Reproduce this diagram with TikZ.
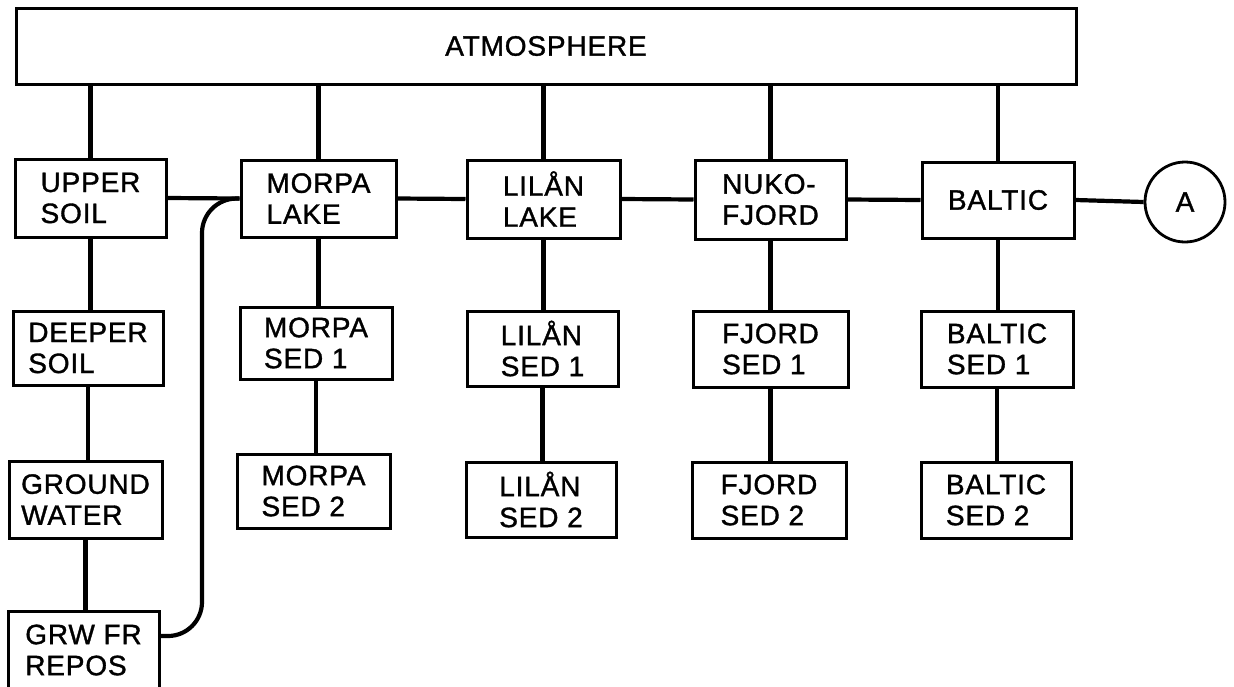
\documentclass[tikz,border=0pt]{standalone}
\usepackage{fontspec}
\setmainfont{Liberation Sans}[LetterSpace=3,FakeBold=1.2]
\begin{document}
\begin{tikzpicture}[x=1pt,y=-1pt,
  box/.style={draw, line width=3pt, align=left, inner sep=0pt,
    font=\fontsize{28}{31}\selectfont},
  sz/.style 2 args={minimum width=#1, minimum height=#2},
  conn/.style={line width=4.2pt}]
\useasboundingbox (0,0) rectangle (1234,686);
\clip (0,0) rectangle (1234,686);
% atmosphere
\node[box, sz={1060}{76}] (atm) at (546,46) {ATMOSPHERE};
% column 1
\node[box, sz={151}{78}] (us) at (90.5,198) {UPPER\\SOIL};
\node[box, sz={150}{74}] (ds) at (88,348) {DEEPER\\SOIL};
\node[box, sz={153}{77}] (gw) at (85.5,499.5) {GROUND\\WATER};
\node[box, sz={151}{77}] (grw) at (83.5,650) {GRW FR\\REPOS};
% column 2
\node[box, sz={155}{77}] (ml) at (318.5,198.5) {MORPA\\LAKE};
\node[box, sz={152}{72}] (ms1) at (316,343) {MORPA\\SED 1};
\node[box, sz={153}{74}] (ms2) at (313.5,491) {MORPA\\SED 2};
% column 3
\node[box, sz={153}{78}] (ll) at (543.5,199) {LILÅN\\LAKE};
\node[box, sz={151}{75}] (ls1) at (542.5,348.5) {LILÅN\\SED 1};
\node[box, sz={150}{75}] (ls2) at (541,499.5) {LILÅN\\SED 2};
% column 4
\node[box, sz={151}{79}] (nf) at (770.5,199.5) {NUKO-\\FJORD};
\node[box, sz={155}{76}] (fs1) at (770.5,349) {FJORD\\SED 1};
\node[box, sz={154}{76}] (fs2) at (769,500) {FJORD\\SED 2};
% column 5
\node[box, sz={152}{76}] (bal) at (998,200) {BALTIC};
\node[box, sz={152}{76}] (bs1) at (997,349) {BALTIC\\SED 1};
\node[box, sz={150}{76}] (bs2) at (996,500) {BALTIC\\SED 2};
% circle A
\node[draw, circle, line width=2.8pt, minimum size=80, inner sep=0pt,
  font=\fontsize{28}{31}\selectfont] (a) at (1185,202) {A};
% atmosphere links
\foreach \n in {us,ml,ll,nf,bal}
  \draw[conn] (\n.north) -- (\n.north |- atm.south);
% horizontal chain
\draw[conn] (us.east) -- (ml.west);
\draw[conn] (ml.east) -- (ll.west);
\draw[conn] (ll.east) -- (nf.west);
\draw[conn] (nf.east) -- (bal.west);
\draw[conn] (bal.east) -- (a.west);
% vertical chains
\draw[conn] (us.south) -- (us.south |- ds.north);
\draw[conn] (ds.south) -- (ds.south |- gw.north);
\draw[conn] (gw.south) -- (gw.south |- grw.north);
\draw[conn] (ml.south) -- (ml.south |- ms1.north);
\draw[conn] (ms1.south) -- (ms1.south |- ms2.north);
\draw[conn] (ll.south) -- (ll.south |- ls1.north);
\draw[conn] (ls1.south) -- (ls1.south |- ls2.north);
\draw[conn] (nf.south) -- (nf.south |- fs1.north);
\draw[conn] (fs1.south) -- (fs1.south |- fs2.north);
\draw[conn] (bal.south) -- (bal.south |- bs1.north);
\draw[conn] (bs1.south) -- (bs1.south |- bs2.north);
% curved link from repository to Morpa lake
\coordinate (k1) at (202,199);
\coordinate (k2) at (202,636);
\draw[conn, rounded corners=34] (ml.west) -- (k1) -- (k2) -- (k2 -| grw.east);
\end{tikzpicture}
\end{document}
